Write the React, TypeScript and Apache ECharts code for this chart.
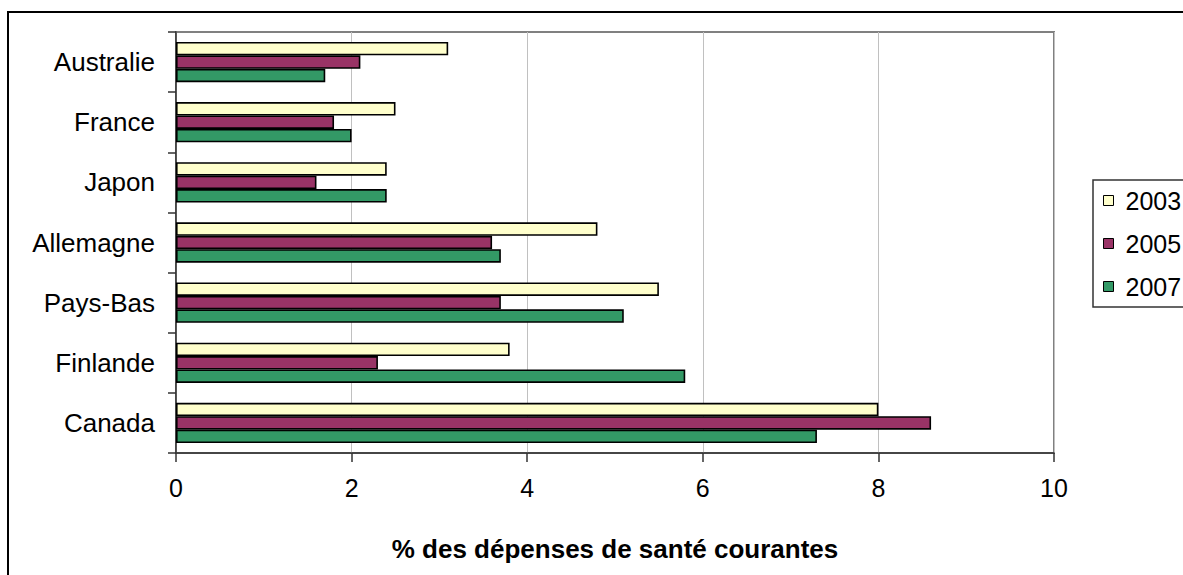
import React, { useEffect, useRef } from "react";
import * as echarts from "echarts";

const categories = ["Australie", "France", "Japon", "Allemagne", "Pays-Bas", "Finlande", "Canada"];
const seriesNames = ["2003", "2005", "2007"];
const values2003 = [3.1, 2.5, 2.4, 4.8, 5.5, 3.8, 8.0];
const values2005 = [2.1, 1.8, 1.6, 3.6, 3.7, 2.3, 8.6];
const values2007 = [1.7, 2.0, 2.4, 3.7, 5.1, 5.8, 7.3];
const colors = ["#FFFFCC", "#993366", "#339966"];
const xTicks = { min: 0, max: 10, interval: 2 };
const axisTitle = "% des dépenses de santé courantes";

const FONT = "'Liberation Sans', Arial, sans-serif";

export default function App() {
  const ref = useRef<HTMLDivElement>(null);
  useEffect(() => {
    if (!ref.current) return;
    const chart = echarts.init(ref.current, undefined, { renderer: "svg" });
    const allValues = [values2003, values2005, values2007];
    chart.setOption({
      animation: false,
      backgroundColor: "#fff",
      textStyle: { fontFamily: FONT },
      grid: {
        left: 176,
        right: 129,
        top: 32,
        bottom: 122,
        show: true,
        borderColor: "#808080",
        borderWidth: 2,
        backgroundColor: "#fff",
      },
      legend: {
        orient: "vertical",
        left: 1093,
        top: 180,
        padding: [8, 20, 8, 10],
        itemGap: 18,
        itemWidth: 10,
        itemHeight: 10,
        icon: "rect",
        borderColor: "#333",
        borderWidth: 1.5,
        backgroundColor: "#fff",
        itemStyle: { borderColor: "#000", borderWidth: 1 },
        textStyle: { fontSize: 25, color: "#000", fontFamily: FONT, padding: [0, 0, 0, 7] },
        data: seriesNames,
      },
      xAxis: {
        type: "value",
        min: xTicks.min,
        max: xTicks.max,
        interval: xTicks.interval,
        axisLine: { show: true, lineStyle: { color: "#333", width: 1.5 } },
        axisTick: { show: true, length: 9, lineStyle: { color: "#333", width: 1.5 } },
        splitLine: { show: true, lineStyle: { color: "#c0c0c0", width: 1 } },
        axisLabel: { fontSize: 25, color: "#000", margin: 22, fontFamily: FONT },
        name: axisTitle,
        nameLocation: "middle",
        nameGap: 83,
        nameTextStyle: { fontSize: 26, fontWeight: "bold", color: "#000", fontFamily: FONT },
      },
      yAxis: {
        type: "category",
        data: categories,
        inverse: true,
        axisLine: { show: true, lineStyle: { color: "#333", width: 1.5 } },
        axisTick: { show: true, length: 8, lineStyle: { color: "#333", width: 1.5 } },
        splitLine: { show: false },
        axisLabel: { fontSize: 26, color: "#000", margin: 21, fontFamily: FONT },
      },
      series: seriesNames.map((name, i) => ({
        name,
        type: "bar",
        data: allValues[i],
        barGap: "0%",
        barCategoryGap: "33%",
        itemStyle: { color: colors[i], borderColor: "#000", borderWidth: 1.6 },
      })),
      graphic: [
        {
          type: "rect",
          shape: { x: 8, y: 12, width: 1200, height: 600 },
          style: { fill: "none", stroke: "#000", lineWidth: 2 },
          silent: true,
          z: 100,
        },
      ],
    });
    return () => chart.dispose();
  }, []);
  return (
    <div
      ref={ref}
      style={{ position: "fixed", left: 0, top: 0, width: 1183, height: 575 }}
    />
  );
}
